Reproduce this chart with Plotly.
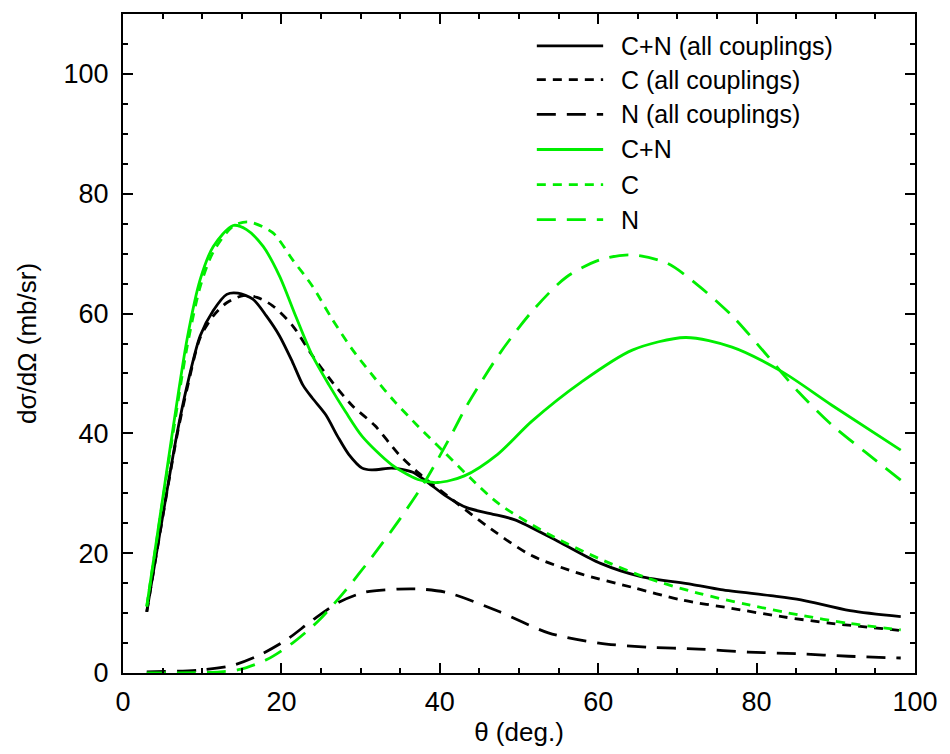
import plotly.graph_objects as go

# ---- data ----
th_cn_all = [3.0, 6.8, 8.1, 9.75, 11.4, 13.1, 14.5, 16.4, 18.1, 19.75, 21.4, 22.7, 23.9, 25.6, 27.1,
             28.5, 30.2, 31.4, 33.9, 35.2, 36.6, 38.5, 40.6, 43.4, 46.4, 49.4, 54.9, 60.3, 65.4, 71.8,
             75.5, 81.8, 85.6, 91.8, 98.2]
v_cn_all = [10.2, 39.8, 48.0, 56.3, 60.5, 63.2, 63.4, 62.4, 59.6, 56.3, 51.9, 48.1, 45.9, 43.1, 39.5,
            36.5, 34.2, 33.9, 34.2, 34.0, 33.5, 31.8, 29.7, 27.6, 26.6, 25.6, 22.0, 18.3, 16.1, 14.8,
            13.9, 12.9, 12.2, 10.4, 9.4]

th_c_all = [3.0, 6.8, 8.1, 9.75, 11.4, 13.1, 15.2, 16.9, 18.9, 21.4, 23.9, 26.4, 28.9, 31.8, 34.75,
            37.3, 42.3, 46.5, 51.6, 57.9, 64.3, 70.5, 76.8, 83.2, 89.4, 98.2]
v_c_all = [10.2, 39.5, 47.5, 56.0, 59.6, 61.8, 63.0, 62.7, 61.3, 58.0, 53.0, 48.6, 44.7, 41.3, 36.6,
           33.4, 28.2, 24.0, 19.6, 16.5, 14.3, 12.2, 10.8, 9.4, 8.3, 7.1]

th_n_all = [3.0, 9.75, 13.9, 17.25, 20.6, 23.9, 27.25, 30.6, 34.75, 37.7, 41.0, 47.4, 53.7, 60.1,
            66.3, 72.7, 78.9, 85.3, 91.6, 98.2]
v_n_all = [0.2, 0.5, 1.3, 3.0, 5.5, 8.8, 11.8, 13.5, 14.0, 14.0, 13.4, 10.3, 6.7, 5.0,
           4.3, 4.0, 3.5, 3.2, 2.8, 2.5]

th_cn = [3.0, 6.2, 8.1, 9.75, 11.4, 13.9, 15.6, 17.7, 19.75, 21.8, 23.9, 26.0, 28.1, 30.2, 33.9,
         37.25, 39.75, 43.1, 47.3, 51.6, 57.9, 64.3, 71.0, 76.9, 83.2, 89.5, 98.2]
v_cn = [11.1, 39.8, 55.8, 65.7, 71.2, 74.7, 74.0, 71.2, 66.3, 59.6, 53.0, 48.1, 43.6, 39.5, 34.8,
        32.3, 31.8, 32.9, 36.5, 42.0, 48.6, 53.9, 56.0, 54.4, 50.3, 44.7, 37.2]

th_c = [3.0, 6.2, 8.1, 9.75, 11.4, 13.9, 15.8, 18.9, 21.4, 23.9, 26.4, 28.9, 31.8, 34.3, 37.25,
        40.6, 43.9, 47.4, 53.7, 60.1, 66.3, 72.7, 78.9, 85.3, 91.6, 98.2]
v_c = [11.1, 39.0, 54.5, 64.5, 70.3, 74.6, 75.3, 73.5, 69.0, 64.6, 59.1, 54.1, 49.2, 45.3, 41.2,
       36.8, 32.5, 28.3, 23.2, 19.1, 15.8, 13.3, 11.4, 9.7, 8.3, 7.2]

th_n = [3.0, 12.25, 14.75, 18.1, 21.4, 24.75, 28.1, 31.4, 34.75, 38.1, 41.4, 43.4, 47.6, 51.8, 56.0,
        60.3, 64.1, 68.7, 72.8, 77.0, 81.2, 85.3, 89.6, 93.7, 98.2]
v_n = [0.0, 0.2, 0.6, 2.2, 5.0, 8.8, 13.8, 19.3, 25.3, 31.9, 39.6, 44.6, 53.4, 60.6, 66.1,
       69.0, 69.8, 68.4, 64.5, 59.5, 53.2, 46.9, 41.3, 36.9, 32.2]

series_names = ["C+N (all couplings)", "C (all couplings)", "N (all couplings)", "C+N", "C", "N"]
x_ticks = [0, 20, 40, 60, 80, 100]
y_ticks = [0, 20, 40, 60, 80, 100]

BLACK = "#000000"
GREEN = "#00ee00"
SOLID = "solid"
SHORT = "9px,7px"
LONG = "19px,11px"
LW = 2.8

series = [
    (th_cn_all, v_cn_all, series_names[0], BLACK, SOLID),
    (th_c_all, v_c_all, series_names[1], BLACK, SHORT),
    (th_n_all, v_n_all, series_names[2], BLACK, LONG),
    (th_cn, v_cn, series_names[3], GREEN, SOLID),
    (th_c, v_c, series_names[4], GREEN, SHORT),
    (th_n, v_n, series_names[5], GREEN, LONG),
]

FONT = "Liberation Sans, Arial, Helvetica, sans-serif"
FS_TICK = 27
FS_LEG = 25
FS_TITLE = 26

fig = go.Figure()
for xs, ys, name, col, dash in series:
    fig.add_trace(go.Scatter(x=xs, y=ys, mode="lines", name=name, showlegend=False,
                             line=dict(color=col, dash=dash, width=LW, shape="spline", smoothing=0.8)))

# manual legend (long line samples like the original)
PL, PR, PT, PB = 123, 923, 13, 676
W, H = 950, 754
row_px = [45.0, 79.0, 114.0, 149.3, 184.6, 219.9]
for (xs, ys, name, col, dash), py in zip(series, row_px):
    yp = (PB - py) / (PB - PT)
    fig.add_shape(type="line", xref="paper", yref="paper",
                  x0=(541 - PL) / (PR - PL), x1=(608 - PL) / (PR - PL), y0=yp, y1=yp,
                  line=dict(color=col, dash=dash, width=LW))
    fig.add_annotation(text=name, xref="paper", yref="paper", x=(624 - PL) / (PR - PL), y=yp,
                       xanchor="left", yanchor="middle", showarrow=False,
                       font=dict(family=FONT, size=FS_LEG, color="black"))

axis_common = dict(showline=True, linecolor="black", linewidth=2, mirror="ticks",
                   ticks="inside", ticklen=10, tickwidth=1.5, tickcolor="black",
                   showgrid=False, zeroline=False,
                   tickfont=dict(family=FONT, size=FS_TICK, color="black"),
                   minor=dict(ticks="inside", ticklen=5, tickwidth=1.5, tickcolor="black", dtick=5, showgrid=False))

fig.update_xaxes(range=[0, 100], tickvals=x_ticks, ticklabelstandoff=4,
                 title=dict(text="θ (deg.)", font=dict(family=FONT, size=FS_TITLE, color="black"), standoff=6),
                 **axis_common)
fig.update_yaxes(range=[0, 110], tickvals=y_ticks, ticklabelstandoff=7,
                 title=dict(text="dσ/dΩ (mb/sr)", font=dict(family=FONT, size=FS_TITLE, color="black"), standoff=19),
                 **axis_common)

fig.update_layout(width=W, height=H, margin=dict(l=PL, r=W - PR, t=PT, b=H - PB),
                  plot_bgcolor="white", paper_bgcolor="white",
                  font=dict(family=FONT, size=FS_TICK, color="black"))

fig.write_html("out.html", config={"displayModeBar": False},
               post_script="document.body.style.margin='0px';")
